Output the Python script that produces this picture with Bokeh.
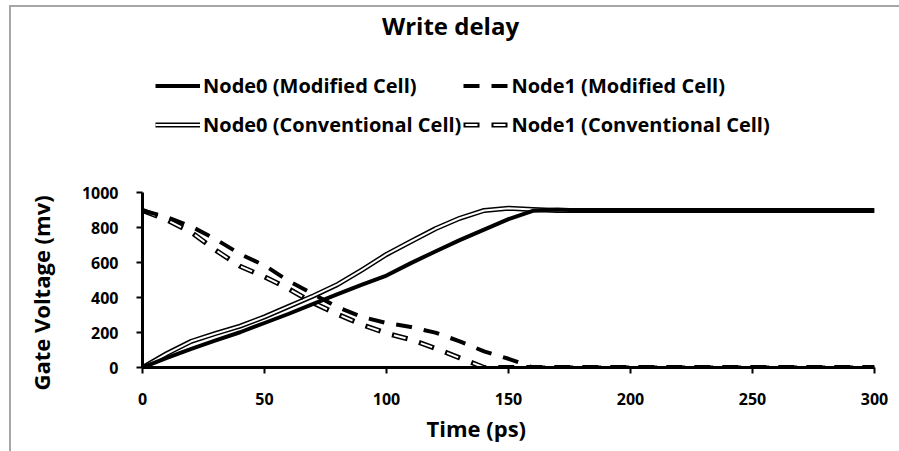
from bokeh.plotting import figure
from bokeh.models import Legend, LegendItem, Label, Range1d, FixedTicker, Title
from bokeh.embed import file_html
from bokeh.resources import INLINE

# ---- data ----
time_ps = [0, 10, 20, 30, 40, 50, 60, 70, 80, 90, 100, 110, 120, 130, 140, 150,
           160, 170, 180, 190, 200, 210, 220, 230, 240, 250, 260, 270, 280, 290, 300]
node0_modified = [0, 55, 107, 155, 202, 255, 308, 365, 420, 475, 527, 598, 665, 730, 790, 850,
                  898, 905, 900, 900, 900, 900, 900, 900, 900, 900, 900, 900, 900, 900, 900]
node1_modified = [900, 862, 808, 735, 650, 585, 495, 420, 345, 290, 255, 232, 200, 150, 92, 50,
                  0, 0, 0, 0, 0, 0, 0, 0, 0, 0, 0, 0, 0, 0, 0]
node0_conventional = [0, 80, 150, 195, 237, 290, 350, 410, 476, 560, 648, 722, 795, 855, 900, 912,
                      905, 900, 900, 900, 900, 900, 900, 900, 900, 900, 900, 900, 900, 900, 900]
node1_conventional = [900, 845, 775, 672, 580, 520, 450, 370, 305, 245, 196, 160, 110, 55, 0, 0,
                      0, 0, 0, 0, 0, 0, 0, 0, 0, 0, 0, 0, 0, 0, 0]

x_ticks = [0, 50, 100, 150, 200, 250, 300]
y_ticks = [0, 200, 400, 600, 800, 1000]
y_axis_bounds = (0, 1000)

title_text = "Write delay"
x_label = "Time (ps)"
y_label = "Gate Voltage (mv)"
labels = ["Node0 (Modified Cell)", "Node1 (Modified Cell)",
          "Node0 (Conventional Cell)", "Node1 (Conventional Cell)"]

FONT = "Open Sans"
BORDER = "#a6a6a6"

# frame spans the full height so that title and legend are drawn inside it;
# the y axis itself is bounded to 0..1000
p = figure(width=899, height=451, output_backend="svg", toolbar_location=None,
           x_range=Range1d(0, 300), y_range=Range1d(0, 2103),
           min_border_left=142, min_border_right=25, min_border_top=0, min_border_bottom=84)
p.styles = {"background": (f"linear-gradient({BORDER},{BORDER}) 9px 5px / 2px 446px no-repeat, "
                           f"linear-gradient({BORDER},{BORDER}) 9px 5px / 890px 2px no-repeat, "
                           "#ffffff")}
p.outline_line_color = None
p.xgrid.visible = False
p.ygrid.visible = False
p.background_fill_alpha = 0
p.border_fill_alpha = 0

for ax in (p.xaxis[0], p.yaxis[0]):
    ax.axis_line_color = "black"
    ax.axis_line_width = 3
    ax.major_tick_line_color = "black"
    ax.major_tick_line_width = 2
    ax.major_tick_out = 6
    ax.major_tick_in = 0
    ax.minor_tick_line_color = None
    ax.major_label_text_font = FONT
    ax.major_label_text_font_style = "bold"
    ax.major_label_text_font_size = "16px"
    ax.major_label_text_color = "black"

p.xaxis[0].ticker = FixedTicker(ticks=x_ticks)
p.yaxis[0].ticker = FixedTicker(ticks=y_ticks)
p.yaxis[0].bounds = y_axis_bounds
p.xaxis[0].major_label_standoff = 19
p.yaxis[0].major_label_standoff = 18

# axis titles placed as side titles so they can be positioned like the reference
ytitle = Title(text=y_label, align="left", offset=-23, standoff=46,
               text_font=FONT, text_font_style="bold", text_font_size="22px",
               text_color="black")
p.add_layout(ytitle, "left")
xtitle = Title(text=x_label, align="left", offset=284, vertical_align="top", standoff=10,
               text_font=FONT, text_font_style="bold", text_font_size="22px",
               text_color="black")
p.add_layout(xtitle, "below")

DASH = "16 12"

r0c_o = p.line(time_ps, node0_conventional, line_color="black", line_width=5, line_join="round")
r0c_i = p.line(time_ps, node0_conventional, line_color="white", line_width=2, line_join="round")
r1c_o = p.line(time_ps, node1_conventional, line_color="black", line_width=5, line_dash=DASH,
               line_join="round")
r1c_i = p.line(time_ps, node1_conventional, line_color="white", line_width=2, line_dash="12 16",
               line_dash_offset=-2, line_join="round")
r0m = p.line(time_ps, node0_modified, line_color="black", line_width=4, line_join="round")
r1m = p.line(time_ps, node1_modified, line_color="black", line_width=4, line_dash=DASH,
             line_join="round")

legend = Legend(items=[
    LegendItem(label=labels[0], renderers=[r0m]),
    LegendItem(label=labels[1], renderers=[r1m]),
    LegendItem(label=labels[2], renderers=[r0c_o, r0c_i]),
    LegendItem(label=labels[3], renderers=[r1c_o, r1c_i]),
], location=(13, 224), orientation="horizontal", ncols=2)
legend.border_line_color = None
legend.background_fill_alpha = 0
legend.padding = 0
legend.margin = 0
legend.spacing = 2
legend.glyph_width = 45
legend.glyph_height = 37
legend.label_standoff = 3
legend.label_text_font = FONT
legend.label_text_font_style = "bold"
legend.label_text_font_size = "20px"
legend.label_text_color = "black"
p.add_layout(legend, "center")

title = Label(x=308, y=342, x_units="screen", y_units="screen", text=title_text,
              text_align="center", text_baseline="alphabetic", text_font=FONT,
              text_font_style="bold", text_font_size="24px", text_color="black")
p.add_layout(title)

open("out.html", "w").write(file_html(p, INLINE))
